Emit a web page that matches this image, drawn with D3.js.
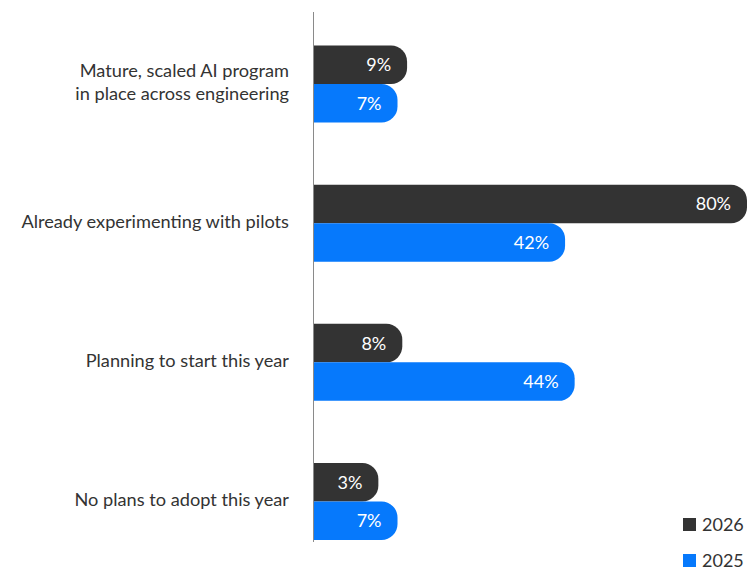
<!DOCTYPE html>
<html>
<head>
<meta charset="utf-8">
<script src="https://d3js.org/d3.v7.min.js"></script>
<style>
  body { margin: 0; background: #fff; }
  svg { font-family: Lato, "Open Sans", sans-serif; }
</style>
</head>
<body>
<svg id="chart" width="756" height="574"></svg>
<script>
// data
var categories = [
  ["Mature, scaled AI program", "in place across engineering"],
  ["Already experimenting with pilots"],
  ["Planning to start this year"],
  ["No plans to adopt this year"]
];
var series = ["2026", "2025"];
var values2026 = [9, 80, 8, 3];
var values2025 = [7, 42, 44, 7];
var colors = ["#333333", "#0679fc"];

var svg = d3.select("#chart");
var axisX = 314;

// bars start with a short stub so small values still hold their label
var x = d3.scaleLinear().domain([0, 80]).range([axisX + 50, 747]);
var y = d3.scaleBand().domain(d3.range(categories.length))
  .range([45.5, 540]).paddingInner(0.447).paddingOuter(0);
var ySub = d3.scaleBand().domain(series).range([0, y.bandwidth()]);
var color = d3.scaleOrdinal().domain(series).range(colors);

var rows = [];
categories.forEach(function(c, i) {
  rows.push({ cat: i, s: "2026", v: values2026[i] });
  rows.push({ cat: i, s: "2025", v: values2025[i] });
});

// rect with rounded right end only
function barPath(x0, y0, x1, h, r) {
  return "M" + x0 + "," + y0 +
    "H" + (x1 - r) +
    "A" + r + "," + r + " 0 0 1 " + x1 + "," + (y0 + r) +
    "V" + (y0 + h - r) +
    "A" + r + "," + r + " 0 0 1 " + (x1 - r) + "," + (y0 + h) +
    "H" + x0 + "Z";
}

var g = svg.append("g");
g.selectAll("path.bar").data(rows).enter().append("path")
  .attr("class", "bar")
  .attr("d", function(d) {
    return barPath(axisX, y(d.cat) + ySub(d.s), x(d.v), ySub.bandwidth(), 16);
  })
  .attr("fill", function(d) { return color(d.s); });

g.selectAll("text.val").data(rows).enter().append("text")
  .attr("class", "val")
  .attr("x", function(d) { return x(d.v) - 16; })
  .attr("y", function(d) { return y(d.cat) + ySub(d.s) + ySub.bandwidth() / 2; })
  .attr("dy", "0.36em")
  .attr("text-anchor", "end")
  .attr("fill", "#fff")
  .style("font-size", "18px")
  .text(function(d) { return d.v + "%"; });

// category labels
var lab = svg.selectAll("text.cat").data(categories).enter().append("text")
  .attr("class", "cat")
  .attr("text-anchor", "end")
  .attr("fill", "#333")
  .style("font-size", "18.2px");
lab.each(function(lines, i) {
  var cy = y(i) + y.bandwidth() / 2;
  var lh = 23;
  d3.select(this).selectAll("tspan").data(lines).enter().append("tspan")
    .attr("x", 289)
    .attr("y", function(t, j) { return cy + (j - (lines.length - 1) / 2) * lh; })
    .attr("dy", "0.24em")
    .text(function(t) { return t; });
});

// vertical axis line
svg.append("line")
  .attr("x1", axisX - 0.5).attr("x2", axisX - 0.5)
  .attr("y1", 12).attr("y2", 542)
  .attr("stroke", "#8a8a8a").attr("stroke-width", 1);

// legend
var leg = svg.selectAll("g.leg").data(series).enter().append("g")
  .attr("class", "leg")
  .attr("transform", function(d, i) { return "translate(683," + (518 + i * 36) + ")"; });
leg.append("rect").attr("width", 13).attr("height", 13)
  .attr("fill", function(d) { return color(d); });
leg.append("text")
  .attr("x", 19).attr("y", 6.5).attr("dy", "0.36em")
  .attr("fill", "#333")
  .style("font-size", "18px")
  .text(function(d) { return d; });
</script>
</body>
</html>
